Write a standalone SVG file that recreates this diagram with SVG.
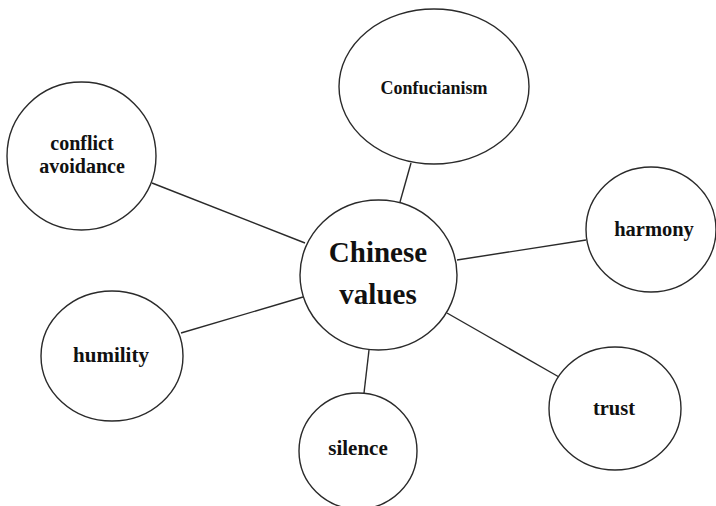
<svg xmlns="http://www.w3.org/2000/svg" width="716" height="506" viewBox="0 0 716 506">
<style>
.n{fill:#fff;stroke:#2a2a2a;stroke-width:1.4}
.c{stroke:#2a2a2a;stroke-width:1.4;fill:none}
text{font-family:"Liberation Serif","Times New Roman",serif;font-weight:bold;fill:#111;text-anchor:middle}
</style>
<rect width="716" height="506" fill="#fff"/>
<g id="connectors">
<line class="c" x1="152" y1="183" x2="305" y2="243"/>
<line class="c" x1="411" y1="163" x2="400" y2="202"/>
<line class="c" x1="457" y1="260" x2="586" y2="240"/>
<line class="c" x1="181" y1="333" x2="303" y2="297"/>
<line class="c" x1="447" y1="313" x2="559" y2="377"/>
<line class="c" x1="369" y1="350" x2="364" y2="393"/>
</g>
<g id="center">
<ellipse class="n" cx="378.5" cy="275" rx="78.5" ry="75"/>
<text x="378" y="262" font-size="29">Chinese</text>
<text x="378" y="304" font-size="29">values</text>
</g>
<g id="conflict">
<ellipse class="n" cx="81.5" cy="156" rx="74.5" ry="74"/>
<text x="82" y="150" font-size="20">conflict</text>
<text x="82" y="172.5" font-size="20">avoidance</text>
</g>
<g id="confucianism">
<ellipse class="n" cx="434" cy="86.5" rx="95" ry="77.5"/>
<text x="434" y="94" font-size="18">Confucianism</text>
</g>
<g id="harmony">
<ellipse class="n" cx="651" cy="229.5" rx="65" ry="62.5"/>
<text x="654" y="236" font-size="20.5">harmony</text>
</g>
<g id="humility">
<ellipse class="n" cx="112" cy="356" rx="71" ry="65"/>
<text x="111" y="362" font-size="21">humility</text>
</g>
<g id="silence">
<ellipse class="n" cx="358" cy="451" rx="59" ry="58"/>
<text x="358" y="455" font-size="21">silence</text>
</g>
<g id="trust">
<ellipse class="n" cx="615" cy="408.5" rx="66" ry="61.5"/>
<text x="614" y="415" font-size="20.5">trust</text>
</g>
</svg>
